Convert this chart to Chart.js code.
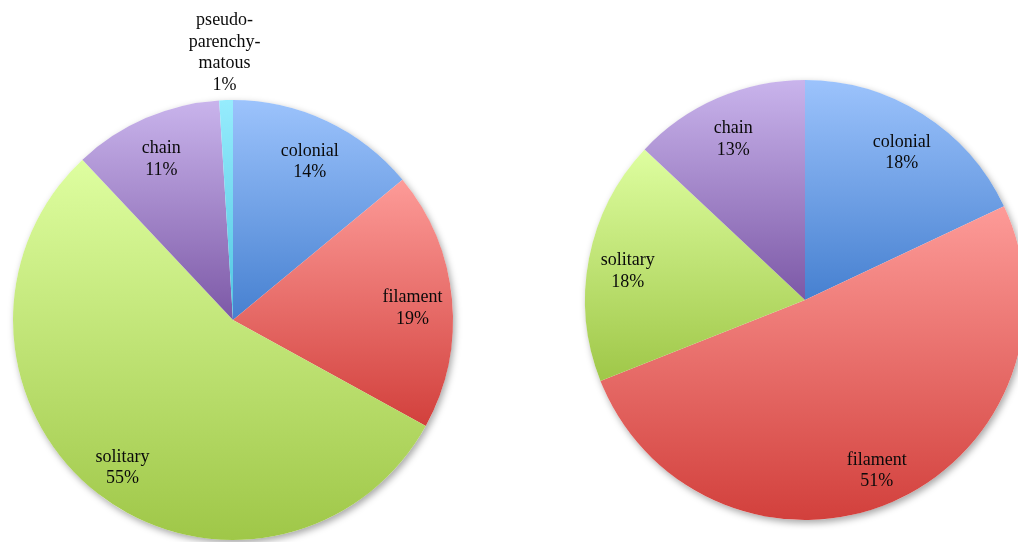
<!DOCTYPE html>
<html>
<head>
<meta charset="utf-8">
<script src="https://cdn.jsdelivr.net/npm/chart.js@4.4.0/dist/chart.umd.min.js"></script>
<style>
  html, body { margin: 0; padding: 0; background: #fff; overflow: hidden; width: 1018px; height: 542px; }
  .pie { position: absolute; }
</style>
</head>
<body>
<div class="pie" style="left:3px;top:0px;"><canvas id="leftPie" width="460" height="550"></canvas></div>
<div class="pie" style="left:575px;top:70px;"><canvas id="rightPie" width="460" height="460"></canvas></div>
<script>
// categories and values (percent)
const leftLabels = ['colonial', 'filament', 'solitary', 'chain', 'pseudo-\nparenchy-\nmatous'];
const leftValues = [14, 19, 55, 11, 1];

const rightLabels = ['colonial', 'filament', 'solitary', 'chain'];
const rightValues = [18, 51, 18, 13];

// gradient top / bottom colours per category
const topColors = {
  colonial: '#9cc3fc', filament: '#fd9b98', solitary: '#defea0', chain: '#c9b4ec', pseudo: '#96ecfd'
};
const bottomColors = {
  colonial: '#4680d0', filament: '#d2403c', solitary: '#9fc748', chain: '#7c58a6', pseudo: '#4ec5e0'
};

function colorKey(label) {
  return label.startsWith('pseudo') ? 'pseudo' : label;
}

// vertical gradient over each slice's own bounding box (Excel style)
function sliceFill(context) {
  const chart = context.chart;
  const area = chart.chartArea;
  const i = context.dataIndex;
  const key = colorKey(chart.data.labels[i]);
  if (!area) return bottomColors[key];
  const data = context.dataset.data;
  const total = data.reduce((a, b) => a + b, 0);
  let before = 0;
  for (let k = 0; k < i; k++) before += data[k];
  const a0 = -Math.PI / 2 + 2 * Math.PI * before / total;
  const a1 = a0 + 2 * Math.PI * data[i] / total;
  const cx = (area.left + area.right) / 2;
  const cy = (area.top + area.bottom) / 2;
  const r = Math.min(area.width, area.height) / 2;
  const ys = [cy, cy + r * Math.sin(a0), cy + r * Math.sin(a1)];
  [-Math.PI / 2, Math.PI / 2, 3 * Math.PI / 2].forEach(t => {
    if (t >= a0 && t <= a1) ys.push(cy + r * Math.sin(t));
  });
  const y0 = Math.min(...ys), y1 = Math.max(...ys);
  const g = chart.ctx.createLinearGradient(0, y0, 0, y1 + 0.01);
  g.addColorStop(0, topColors[key]);
  g.addColorStop(1, bottomColors[key]);
  return g;
}

// soft drop shadow under the whole pie
const pieShadow = {
  id: 'pieShadow',
  beforeDatasetsDraw(chart) {
    const arc = chart.getDatasetMeta(0).data[0];
    if (!arc) return;
    const ctx = chart.ctx;
    ctx.save();
    ctx.shadowColor = 'rgba(0,0,0,0.35)';
    ctx.shadowBlur = 7;
    ctx.shadowOffsetX = 2;
    ctx.shadowOffsetY = 3;
    ctx.fillStyle = '#fff';
    ctx.beginPath();
    ctx.arc(arc.x, arc.y, arc.outerRadius, 0, Math.PI * 2);
    ctx.fill();
    ctx.restore();
  }
};

// category name + percentage inside each slice (outside for tiny ones)
const sliceLabels = {
  id: 'sliceLabels',
  afterDatasetsDraw(chart) {
    const meta = chart.getDatasetMeta(0);
    const data = chart.data.datasets[0].data;
    const total = data.reduce((a, b) => a + b, 0);
    const ctx = chart.ctx;
    const lineH = 21.5;
    ctx.save();
    ctx.font = '18px "Liberation Serif", "Times New Roman", serif';
    ctx.fillStyle = '#0a0a0a';
    ctx.textAlign = 'center';
    ctx.textBaseline = 'middle';
    meta.data.forEach((arc, i) => {
      const lines = chart.data.labels[i].split('\n');
      lines.push(Math.round(data[i] / total * 100) + '%');
      const mid = (arc.startAngle + arc.endAngle) / 2;
      if (data[i] / total >= 0.03) {
        const d = arc.outerRadius * 0.82;
        const x = arc.x + Math.cos(mid) * d;
        const y = arc.y + Math.sin(mid) * d + 5;
        const y0 = y - (lines.length - 1) * lineH / 2;
        lines.forEach((t, j) => ctx.fillText(t, x, y0 + j * lineH));
      } else {
        const d = arc.outerRadius + 15;
        const x = arc.x + Math.cos(mid) * d - 1;
        const yLast = arc.y + Math.sin(mid) * d;
        lines.forEach((t, j) => ctx.fillText(t, x, yLast - (lines.length - 1 - j) * lineH));
      }
    });
    ctx.restore();
  }
};

function makePie(id, labels, values, padding) {
  return new Chart(document.getElementById(id), {
    type: 'pie',
    data: {
      labels: labels,
      datasets: [{
        data: values,
        backgroundColor: sliceFill,
        borderWidth: 0
      }]
    },
    options: {
      responsive: false,
      animation: false,
      layout: { padding: padding },
      plugins: { legend: { display: false }, tooltip: { enabled: false } }
    },
    plugins: [pieShadow, sliceLabels]
  });
}

makePie('leftPie', leftLabels, leftValues, { top: 100, left: 10, right: 10, bottom: 10 });
makePie('rightPie', rightLabels, rightValues, { top: 10, left: 10, right: 10, bottom: 10 });
</script>
</body>
</html>
